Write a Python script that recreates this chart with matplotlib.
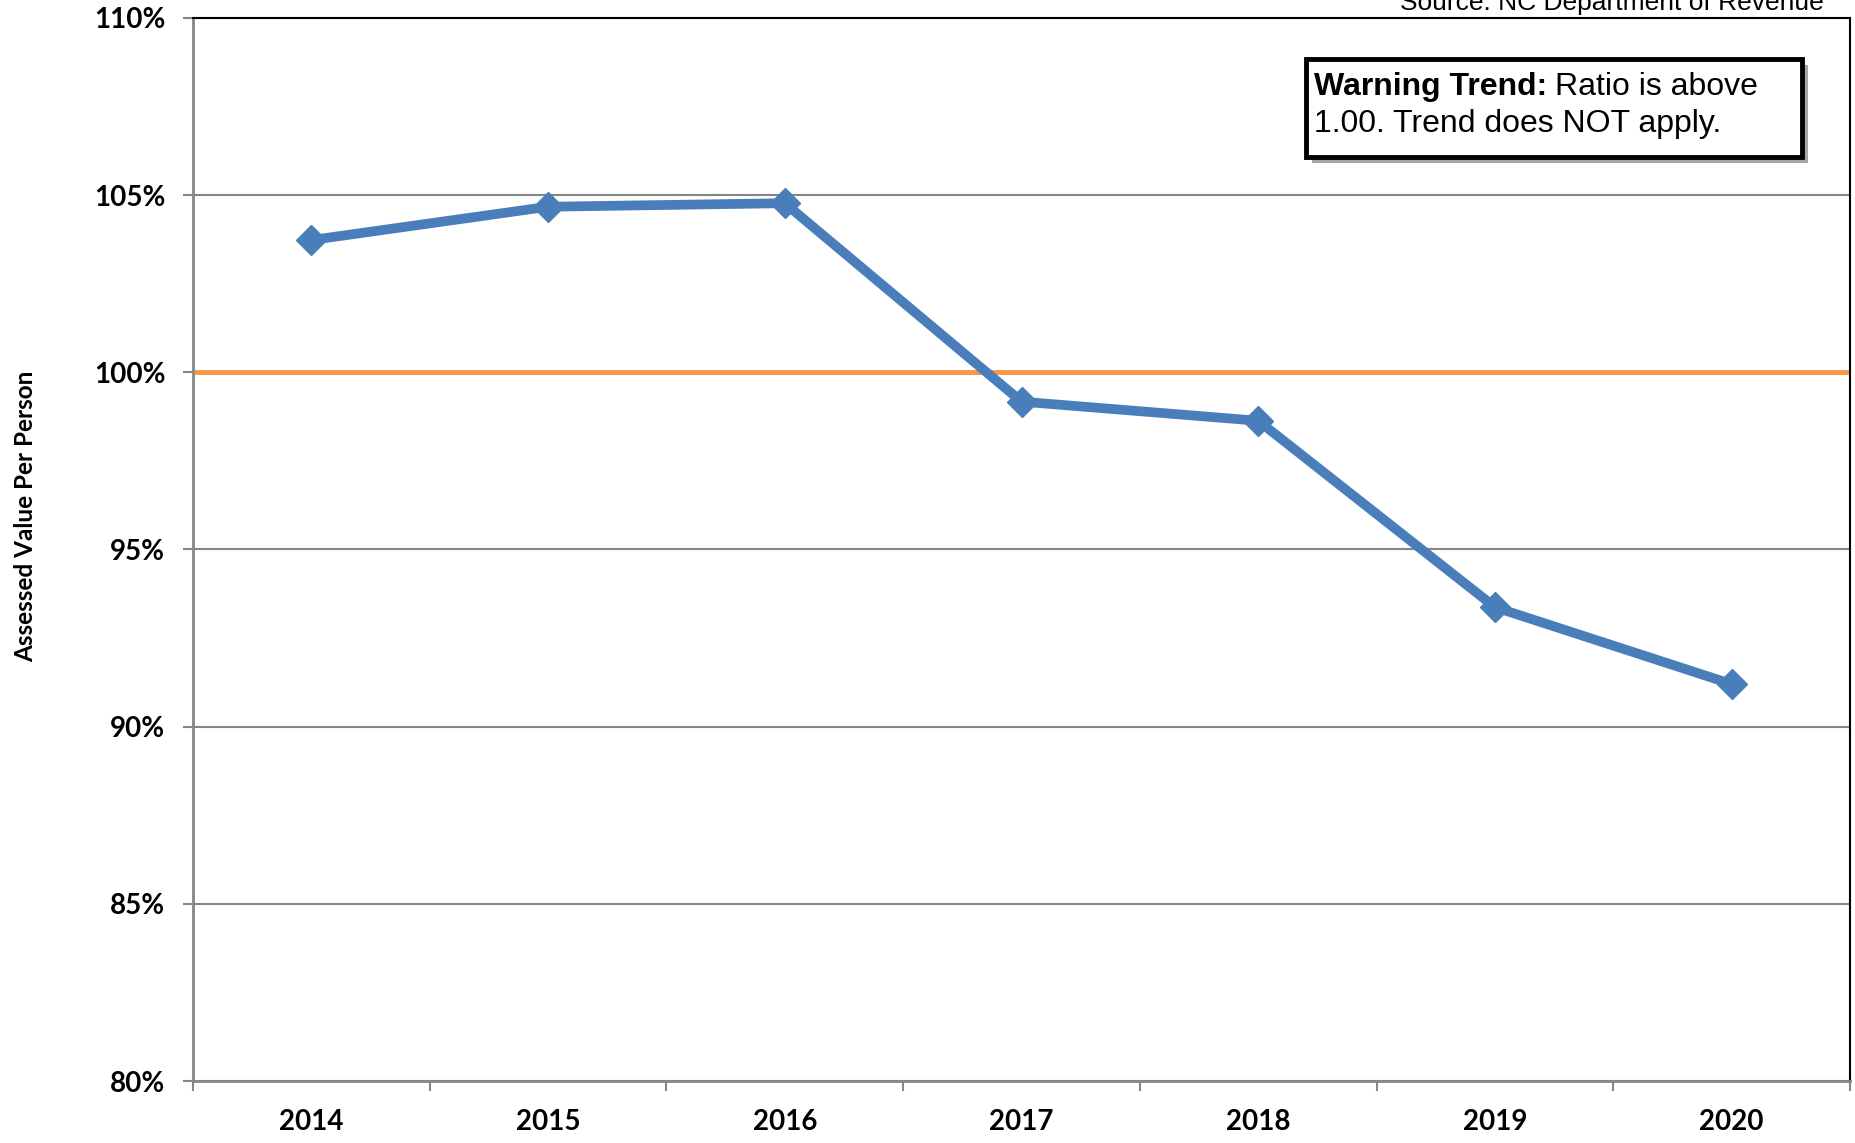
import matplotlib.pyplot as plt
import numpy as np

# Data
years = ["2014", "2015", "2016", "2017", "2018", "2019", "2020"]
ratio = [103.73, 104.67, 104.77, 99.17, 98.63, 93.37, 91.2]
threshold = 100.0
y_ticks = [80, 85, 90, 95, 100, 105, 110]

blue = "#4A7EBB"
orange = "#F79646"
gray = "#868686"

fig = plt.figure(figsize=(18.56, 11.43), dpi=100)
ax = fig.add_axes([0.104, 0.0542, 0.8928, 0.9302])

x = np.arange(len(years))
ax.axhline(threshold, color=orange, linewidth=3.5, zorder=2)
ax.plot(x, ratio, color=blue, linewidth=7, marker="D", markersize=15,
        solid_joinstyle="miter", zorder=3)

ax.set_xlim(-0.5, len(years) - 0.5)
ax.set_ylim(y_ticks[0], y_ticks[-1])

# gridlines
ax.set_yticks(y_ticks)
ax.set_yticklabels([f"{v}%" for v in y_ticks])
ax.grid(axis="y", color=gray, linewidth=1.5, zorder=1)
ax.set_axisbelow(True)

ax.set_xticks(x)
ax.set_xticklabels(years)
ax.set_xticks(np.arange(-0.5, len(years)), minor=True)
ax.tick_params(axis="x", which="major", length=0, pad=20)
ax.tick_params(axis="x", which="minor", length=7, width=1.5, color=gray, direction="out")
ax.tick_params(axis="y", which="major", length=7, width=1.5, color=gray, pad=13)

for lbl in ax.get_xticklabels() + ax.get_yticklabels():
    lbl.set_fontfamily("Lato")
    lbl.set_fontweight("bold")
    lbl.set_fontsize(20)

for side in ["left", "bottom"]:
    ax.spines[side].set_color(gray)
    ax.spines[side].set_linewidth(2)
for side in ["top", "right"]:
    ax.spines[side].set_color("black")
    ax.spines[side].set_linewidth(1.5)

fig.text(0.014, 0.548, "Assessed Value Per Person", rotation=90, ha="center", va="center",
         fontsize=17.5, fontweight="bold", family="Lato")

fig.text(0.8685, 0.9975, "Source: NC Department of Revenue", ha="center", va="center",
         fontsize=19, family="Liberation Sans")

# warning box with shadow
bx0, by0, bw, bh = 0.7036, 0.8626, 0.2673, 0.0858
shadow = plt.Rectangle((bx0 + 0.0035, by0 - 0.0055), bw, bh, transform=fig.transFigure,
                       facecolor="#a6a6a6", edgecolor="none", zorder=5)
box = plt.Rectangle((bx0, by0), bw, bh, transform=fig.transFigure,
                    facecolor="white", edgecolor="black", linewidth=3.5, zorder=6)
fig.add_artist(shadow)
fig.add_artist(box)
t1 = fig.text(bx0 + 0.0045, by0 + bh - 0.011, "Warning Trend:", ha="left", va="top",
              fontsize=23, fontweight="bold", family="Liberation Sans", zorder=7)
fig.canvas.draw()
bb = t1.get_window_extent().transformed(fig.transFigure.inverted())
fig.text(bb.x1 + 0.004, by0 + bh - 0.011, "Ratio is above", ha="left", va="top",
         fontsize=23, family="Liberation Sans", zorder=7)
fig.text(bx0 + 0.0045, by0 + bh - 0.0435, "1.00. Trend does NOT apply.", ha="left", va="top",
         fontsize=23, family="Liberation Sans", zorder=7)

fig.savefig("out.png", dpi=100)
